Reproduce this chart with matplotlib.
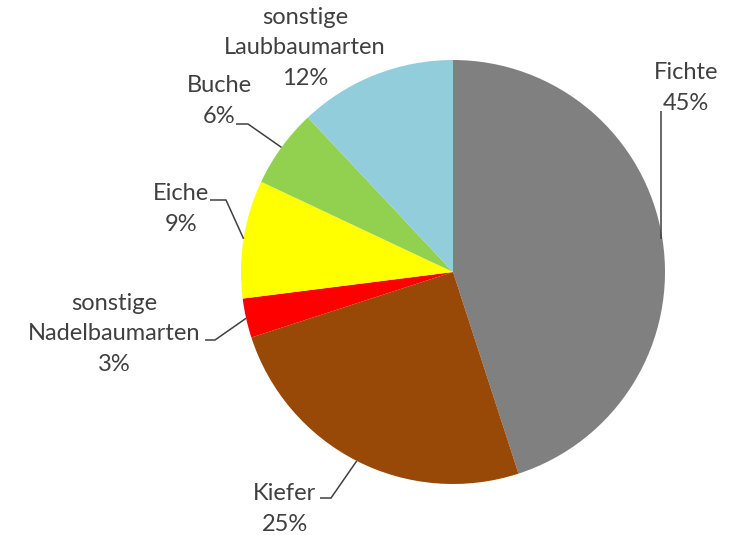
import numpy as np
import matplotlib
matplotlib.use("Agg")
import matplotlib.pyplot as plt

# Baumarten-Anteile (Prozent), im Uhrzeigersinn ab 12 Uhr
names = ["Fichte", "Kiefer", "sonstige\nNadelbaumarten", "Eiche", "Buche",
         "sonstige\nLaubbaumarten"]
shares = [45, 25, 3, 9, 6, 12]
colors = ["#808080", "#984807", "#ff0000", "#ffff00", "#92d050", "#92cddc"]

W, H = 735, 535
cx, cy, rad = 453, H - 272, 212
line_h = 30.5

# label centre and leader knee points in pixel coords (y from top)
label_pos = [(686, 88), (285, 509), (114, 334), (181, 209), (219, 101), (305, 48)]
leaders = [
    [(661, 111)],
    [(320, 498), (331, 498)],
    [(205, 340), (215, 340)],
    [(210, 200), (226, 200)],
    [(236, 124), (248, 124)],
    None,
]

plt.rcParams['font.family'] = ['Lato', 'DejaVu Sans']
txt_col = "#404040"

fig = plt.figure(figsize=(W / 100, H / 100), dpi=100)
ax = fig.add_axes([0, 0, 1, 1])
wedges, _ = ax.pie(shares, colors=colors, startangle=90, counterclock=False,
                   center=(cx, cy), radius=rad,
                   wedgeprops=dict(linewidth=0))
ax.set_xlim(0, W)
ax.set_ylim(0, H)
ax.set_aspect('equal')
ax.axis('off')

for w, name, val, pos, knee in zip(wedges, names, shares, label_pos, leaders):
    lines = name.split("\n") + [f"{val}%"]
    y0 = pos[1] - line_h * (len(lines) - 1) / 2
    for i, s in enumerate(lines):
        ax.text(pos[0], H - (y0 + i * line_h), s, ha='center', va='center',
                fontsize=17, color=txt_col)
    if knee is None:
        continue
    mid = np.deg2rad((w.theta1 + w.theta2) / 2)
    ax_pt = (cx + rad * np.cos(mid), cy + rad * np.sin(mid))
    xs = [p[0] for p in knee]
    ys = [H - p[1] for p in knee]
    if len(knee) == 1:
        xs.append(xs[0])
        ys.append(ax_pt[1])
    else:
        xs.append(ax_pt[0])
        ys.append(ax_pt[1])
    ax.plot(xs, ys, color=txt_col, lw=1.1, solid_capstyle='butt')

fig.savefig("out.png", dpi=100)
